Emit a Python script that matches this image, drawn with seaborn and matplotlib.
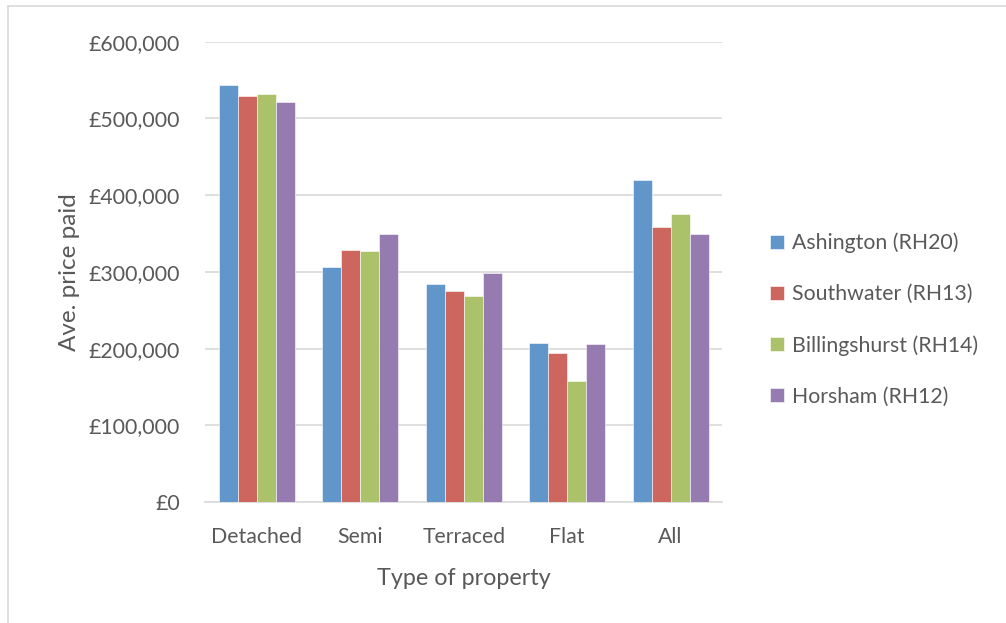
import matplotlib
matplotlib.use("Agg")
import matplotlib.pyplot as plt
import matplotlib.lines as mlines
import matplotlib.ticker as mticker
import seaborn as sns
import pandas as pd

# Average price paid by property type and area
property_types = ["Detached", "Semi", "Terraced", "Flat", "All"]
areas = ["Ashington (RH20)", "Southwater (RH13)", "Billingshurst (RH14)", "Horsham (RH12)"]
ashington = [544000, 307000, 284000, 207000, 420000]
southwater = [529000, 329000, 275000, 194000, 358000]
billingshurst = [532000, 327000, 268000, 158000, 375000]
horsham = [521000, 349000, 299000, 206000, 349000]
colors = ["#6096C9", "#CC665E", "#ABC26B", "#957BB0"]

rows = []
for area, vals in zip(areas, [ashington, southwater, billingshurst, horsham]):
    for ptype, v in zip(property_types, vals):
        rows.append({"type": ptype, "area": area, "price": v})
df = pd.DataFrame(rows)

sns.set_style("white")
plt.rcParams["font.family"] = ["Lato", "DejaVu Sans"]
text_color = "#595959"

fig = plt.figure(figsize=(10.06, 6.23), dpi=100)
ax = fig.add_axes([0.204, 0.194, 0.514, 0.739])

sns.barplot(data=df, x="type", y="price", hue="area", order=property_types,
            hue_order=areas, palette=colors, saturation=1, width=0.735, gap=0,
            edgecolor="white", linewidth=0.4, ax=ax, zorder=3)

ax.set_ylim(0, 600000)
ax.set_xlim(-0.5, 4.5)
ax.yaxis.set_major_locator(mticker.MultipleLocator(100000))
ax.yaxis.set_major_formatter(mticker.FuncFormatter(lambda v, p: "£{:,.0f}".format(v)))
ax.grid(axis="y", color="#d9d9d9", linewidth=1.2, zorder=0)
ax.set_axisbelow(True)
for s in ["top", "right", "left"]:
    ax.spines[s].set_visible(False)
ax.spines["bottom"].set_color("#d9d9d9")
ax.spines["bottom"].set_linewidth(1.2)
ax.tick_params(axis="both", length=0, labelsize=15.3, colors=text_color)
ax.tick_params(axis="x", pad=18)
ax.tick_params(axis="y", pad=18)

ax.set_xlabel("Type of property", fontsize=16.8, color=text_color, labelpad=15)
ax.set_ylabel("Ave. price paid", fontsize=17.5, color=text_color, labelpad=6)

ax.legend(loc="center left", bbox_to_anchor=(0.757, 0.487), bbox_transform=fig.transFigure,
          frameon=False, fontsize=15.3, labelcolor=text_color, handlelength=0.65,
          handleheight=0.65, handletextpad=0.4, labelspacing=1.45, borderaxespad=0)

# chart frame (top and left edges visible in the reference)
fig.add_artist(mlines.Line2D([0.008, 1.0], [0.990, 0.990], transform=fig.transFigure,
                             color="#d9d9d9", linewidth=1.2))
fig.add_artist(mlines.Line2D([0.008, 0.008], [0.0, 0.990], transform=fig.transFigure,
                             color="#d9d9d9", linewidth=1.2))

fig.savefig("out.png", dpi=100)
